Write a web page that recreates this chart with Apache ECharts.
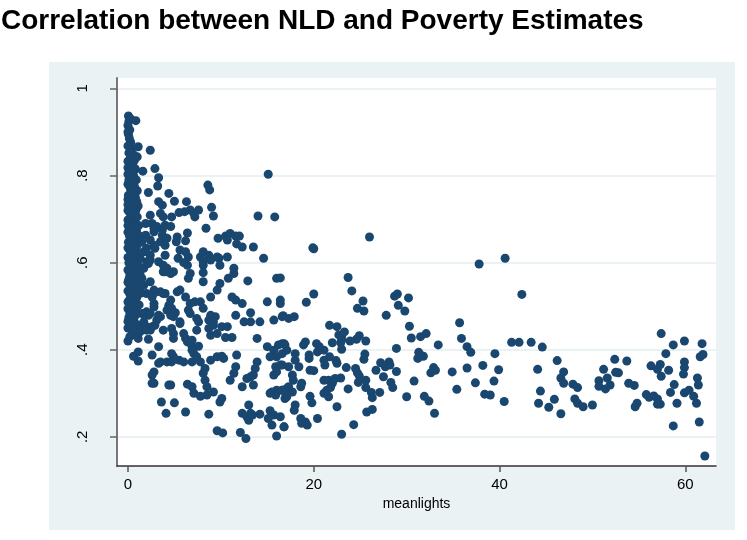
<!DOCTYPE html>
<html>
<head>
<meta charset="utf-8">
<script src="https://cdn.jsdelivr.net/npm/echarts@6/dist/echarts.min.js"></script>
<style>
html,body{margin:0;padding:0;background:#fff;}
#chart{width:747px;height:540px;}
</style>
</head>
<body>
<div id="chart"></div>
<script>
const chartTitle = 'Correlation between NLD and Poverty Estimates';
const xAxisName = 'meanlights';
const xTickValues = [0, 20, 40, 60];
const yTickValues = [0.2, 0.4, 0.6, 0.8, 1];
const yTickLabels = ['.2', '.4', '.6', '.8', '1'];

// [meanlights, poverty] — dense cluster near zero lights
const pointsDarkCluster = [
  [0.05,0.937],[0.1,0.925],[0.0,0.915],[0.2,0.905],[0.05,0.895],[0.15,0.885],[0.3,0.876],[0.3,0.93],[0.0,0.9],
  [0.0,0.868],[0.4,0.862],[0.1,0.852],[0.6,0.848],[0.25,0.84],[0.0,0.833],[0.5,0.826],[0.15,0.82],[0.8,0.815],
  [0.35,0.81],[0.0,0.803],[0.6,0.8],[0.25,0.86],[0.7,0.835],[0.0,0.818],[0.45,0.8],[0.1,0.79],
  [0.2,0.795],[0.9,0.79],[0.45,0.786],[0.0,0.78],[0.7,0.775],[0.25,0.77],[1.0,0.765],[0.5,0.76],[0.05,0.755],
  [0.8,0.75],[0.3,0.745],[0.6,0.738],[0.0,0.733],[1.1,0.73],[0.4,0.727],[0.85,0.72],[0.15,0.716],[0.6,0.71],
  [1.0,0.705],[0.3,0.703],[0.65,0.765],[0.35,0.755],[0.0,0.745],[0.95,0.74],[0.5,0.715],[0.0,0.72],
  [0.0,0.698],[0.75,0.694],[0.5,0.688],[1.15,0.685],[0.2,0.68],[0.9,0.676],[0.0,0.67],[0.55,0.667],[1.2,0.662],
  [0.3,0.657],[0.8,0.652],[0.05,0.647],[1.05,0.642],[0.45,0.638],[0.15,0.63],[0.7,0.627],[1.2,0.622],[0.35,0.617],
  [0.0,0.612],[0.9,0.608],[0.55,0.603],[0.25,0.69],[0.65,0.683],[0.0,0.685],[0.4,0.672],[0.95,0.668],[0.15,0.662],
  [0.6,0.645],[0.0,0.634],[0.85,0.632],[0.3,0.625],[0.75,0.612],
  [0.2,0.598],[1.1,0.594],[0.7,0.588],[0.0,0.583],[0.4,0.578],[1.3,0.573],[0.85,0.568],[0.1,0.562],[0.55,0.557],
  [1.1,0.552],[0.25,0.546],[0.75,0.54],[0.0,0.535],[1.4,0.53],[0.45,0.525],[0.95,0.52],[0.15,0.514],[0.65,0.508],
  [1.2,0.503],[0.3,0.5],[0.1,0.6],[0.45,0.592],[0.95,0.58],[0.2,0.57],[0.6,0.575],[0.0,0.555],[0.85,0.548],
  [0.4,0.54],[1.05,0.535],[0.2,0.528],[0.6,0.52],[0.0,0.51],[0.9,0.505],[0.45,0.498],
  [0.0,0.494],[0.85,0.49],[0.5,0.482],[0.1,0.474],[0.35,0.465],[0.7,0.458],[0.0,0.45],[0.2,0.485],[0.7,0.475],
  [0.0,0.465],[0.5,0.44],[0.2,0.43],[0.0,0.42],[0.6,0.498],[0.4,0.487],[1.0,0.483],[0.8,0.46],
  [1.0,0.43],[1.1,0.395],[0.6,0.385],[1.1,0.374],[0.6,0.476],[1.1,0.456],[1.3,0.445],[1.1,0.426]
];

// low lights, higher poverty (upper left spread)
const pointsUpperSpread = [
  [0.85,0.926],[2.4,0.858],[1.1,0.866],[1.0,0.843],[2.9,0.816],[1.6,0.81],[3.3,0.795],[3.2,0.776],[2.2,0.761],
  [4.4,0.759],[8.6,0.778],[8.8,0.767],[3.3,0.74],[3.7,0.732],[5.0,0.741],[6.3,0.74],[2.4,0.709],[3.5,0.713],
  [3.8,0.705],[4.7,0.705],[5.5,0.715],[6.1,0.717],[6.7,0.721],[7.1,0.713],[7.2,0.705],[7.6,0.721],[9.0,0.727],
  [9.2,0.707],[14.0,0.707],[15.8,0.705],[15.1,0.803],[2.6,0.69],[1.9,0.69],[2.8,0.679],[3.7,0.675],[4.0,0.686],
  [4.6,0.683],[3.1,0.683],[2.8,0.671],[2.4,0.652],[1.9,0.663],[1.5,0.648],[3.7,0.663],[4.2,0.656],[5.3,0.659],
  [5.2,0.648],[6.4,0.668],[6.2,0.65],[8.4,0.679],[9.7,0.656],[10.5,0.661],[11.0,0.667],[11.6,0.661],[12.0,0.661],
  [10.7,0.652],[11.7,0.643],[12.3,0.636],[13.5,0.636],[2.9,0.633],[1.9,0.629],[3.5,0.648],[4.0,0.64],[2.8,0.64],
  [2.0,0.633],[4.0,0.617],[5.6,0.629],[6.2,0.625],[6.5,0.613],[7.8,0.613],[8.1,0.602],[8.1,0.625],[8.7,0.617],
  [9.6,0.613],[10.7,0.613],[14.6,0.61],[2.4,0.606],[2.0,0.602],[1.7,0.625],[1.3,0.61],[3.3,0.602],[4.2,0.587],
  [3.8,0.579],[1.7,0.587],[2.2,0.598],[1.5,0.564],[2.4,0.556],[1.7,0.548],[16.0,0.564],[12.9,0.558],[11.4,0.587],
  [11.4,0.575],[10.8,0.564],[9.8,0.61],[9.9,0.594],[8.9,0.606],[8.1,0.594],[8.1,0.577],[8.1,0.556],[9.9,0.552],
  [9.6,0.537],[8.9,0.521],[6.4,0.594],[6.7,0.575],[6.5,0.564],[5.4,0.61],[3.8,0.594],[4.0,0.579],[4.6,0.575],
  [4.9,0.579],[2.4,0.617],[6.0,0.6]
];

// low lights, middle poverty
const pointsLowerSpread = [
  [2.8,0.537],[2.9,0.531],[3.5,0.533],[4.0,0.529],[5.3,0.533],[5.6,0.537],[6.2,0.521],[4.6,0.514],[4.4,0.502],
  [4.7,0.495],[4.2,0.491],[5.1,0.485],[4.9,0.476],[5.6,0.464],[4.6,0.479],[6.7,0.506],[7.2,0.51],[7.8,0.51],
  [6.5,0.491],[6.7,0.483],[7.4,0.472],[7.6,0.464],[7.4,0.445],[5.6,0.46],[4.7,0.449],[4.9,0.437],[4.9,0.426],
  [3.8,0.445],[2.9,0.456],[2.4,0.445],[2.0,0.453],[1.7,0.464],[1.5,0.483],[2.2,0.479],[2.0,0.487],[3.3,0.479],
  [2.8,0.506],[2.6,0.521],[2.0,0.529],[1.3,0.533],[1.0,0.529],[3.8,0.529],[1.7,0.483],[2.4,0.483],[2.8,0.498],
  [2.6,0.453],[3.1,0.468],[3.5,0.476],[1.3,0.441],[2.0,0.445],[2.2,0.424],[3.3,0.407],
  [6.0,0.437],[6.2,0.426],[6.4,0.418],[6.9,0.422],[6.9,0.407],[7.6,0.408],[7.1,0.391],[8.7,0.449],[9.2,0.456],
  [10.1,0.453],[10.7,0.453],[11.2,0.428],[10.5,0.428],[9.6,0.437],[8.9,0.433],[8.1,0.495],[8.9,0.479],[9.4,0.476],
  [9.2,0.464],[8.7,0.468],[11.6,0.479],[12.5,0.464],[13.2,0.464],[13.2,0.485],[11.2,0.521],[11.6,0.514],
  [12.3,0.506],[14.2,0.464],[13.9,0.426],[15.0,0.51],[15.7,0.468],[16.6,0.476],
  [15.0,0.407],[15.7,0.399],[16.2,0.411],[16.8,0.414],[17.1,0.399],[16.0,0.384],[15.3,0.384],[15.9,0.361],
  [16.4,0.365],[15.7,0.342],[16.0,0.349],
  [2.6,0.388],[3.5,0.372],[2.8,0.349],[2.6,0.342],[2.8,0.323],[4.4,0.319],[3.3,0.369],[4.2,0.372],[4.7,0.372],
  [5.5,0.376],[6.0,0.372],[6.9,0.372],[6.9,0.399],[7.4,0.384],[7.8,0.372],[4.9,0.384],[4.7,0.391],
  [8.5,0.315],[8.3,0.33],[8.1,0.346],[8.3,0.357],[8.9,0.376],[9.6,0.384],[10.1,0.385],[10.3,0.38],
  [11.7,0.388],[11.6,0.361],[11.4,0.346],[11.0,0.33],[12.8,0.334],[13.2,0.338],[13.5,0.342],[13.7,0.357],
  [13.9,0.372],[12.3,0.315],[13.5,0.319],
  [6.4,0.321],[6.9,0.315],[7.1,0.3],[7.8,0.293],[8.5,0.296],[9.2,0.303],[10.1,0.288],[9.9,0.28],[3.6,0.28],
  [5.0,0.278],[4.1,0.254],[6.2,0.257],[8.7,0.252],[9.6,0.214],[10.2,0.209],[12.1,0.21],[12.7,0.196],[12.3,0.254],
  [12.8,0.246],[13.2,0.254],[13.0,0.273],[14.2,0.252],[15.3,0.26],[15.7,0.25],[15.1,0.242],[15.5,0.227],
  [16.0,0.202],[16.8,0.223],[15.3,0.3],[16.0,0.307],[17.1,0.311],[16.9,0.288],[13.4,0.25],[13.0,0.238],
  [15.5,0.303],[15.9,0.296],[16.6,0.307],[17.1,0.292],[2.6,0.323],[4.6,0.319]
];

// middle lights
const pointsMidLights = [
  [26.0,0.659],[19.9,0.634],[20.0,0.632],[16.4,0.565],[23.7,0.566],[24.1,0.535],[25.3,0.512],[24.7,0.495],
  [25.4,0.489],[20.0,0.528],[19.2,0.509],[16.4,0.514],[16.4,0.506],[16.7,0.478],[17.3,0.472],[17.9,0.476],
  [21.7,0.456],[22.5,0.453],[22.7,0.434],[23.3,0.441],[23.0,0.422],[24.9,0.432],[24.6,0.424],[25.6,0.42],
  [23.9,0.42],[27.8,0.479],[28.7,0.523],[29.0,0.528],[30.2,0.519],[29.1,0.502],[29.8,0.489],[30.3,0.454],
  [30.5,0.427],[31.5,0.43],[32.1,0.437],[33.4,0.411],[35.7,0.462],[35.9,0.426],[36.5,0.407],[36.9,0.394],
  [36.5,0.358],[34.9,0.349],[37.4,0.324],[35.4,0.309],[28.9,0.403],[31.3,0.394],[31.6,0.386],[31.2,0.38],
  [31.8,0.385],[32.9,0.359],[32.6,0.347],[33.1,0.353],[30.8,0.328],[30.0,0.292],[31.9,0.293],[32.4,0.282],
  [33.0,0.254],[28.9,0.35],[27.2,0.37],[28.1,0.372],[27.7,0.361],[28.2,0.365],[26.7,0.353],[27.5,0.338],
  [28.3,0.325],[28.5,0.313],[27.1,0.302],[26.3,0.29],[26.2,0.302],[25.7,0.257],[26.3,0.263],[24.3,0.228],
  [23.0,0.206],[23.7,0.31],[24.9,0.34],[25.6,0.33],[24.8,0.325],[25.6,0.313],[24.5,0.357],[24.7,0.347],
  [25.5,0.39],[25.4,0.378],[23.0,0.401],[23.5,0.359],[22.5,0.369],[22.4,0.375],[22.0,0.416],[23.0,0.43],
  [22.9,0.416],[21.1,0.376],[21.2,0.365],[21.1,0.399],[21.7,0.384],[21.1,0.33],[21.6,0.33],[22.0,0.323],
  [22.3,0.334],[22.9,0.335],[21.8,0.313],[21.1,0.3],[21.6,0.292],[21.4,0.307],[22.5,0.269],[20.3,0.414],
  [20.6,0.407],[20.4,0.395],[19.5,0.388],[19.5,0.38],[19.1,0.418],[18.9,0.411],[19.6,0.353],[20.0,0.352],
  [18.7,0.323],[18.6,0.315],[19.6,0.293],[19.8,0.278],[20.4,0.242],[18.6,0.242],[19.1,0.234],[19.3,0.227],
  [18.7,0.231],[16.8,0.223],[18.0,0.273],[17.9,0.261],[17.7,0.342],[17.8,0.33],[17.3,0.315],[17.7,0.303],
  [18.0,0.391],[18.0,0.376],[18.4,0.361],[16.6,0.414],[16.9,0.411],[17.3,0.361],[16.6,0.365],[16.6,0.391],
  [16.6,0.307],[16.4,0.246]
];

// high lights
const pointsHighLights = [
  [37.8,0.597],[40.6,0.61],[42.4,0.527],[41.3,0.417],[42.1,0.417],[43.4,0.417],[44.6,0.406],[39.5,0.391],
  [38.2,0.364],[39.9,0.354],[39.4,0.328],[38.4,0.298],[39.0,0.296],[40.5,0.281],[44.1,0.355],[46.2,0.375],
  [44.4,0.305],[44.2,0.277],[45.3,0.268],[45.9,0.286],[46.6,0.253],[46.9,0.349],[46.6,0.335],[46.9,0.323],
  [47.9,0.321],[48.4,0.313],[48.1,0.287],[48.4,0.277],[49.0,0.269],[50.0,0.273],[51.2,0.355],[50.7,0.329],
  [50.7,0.316],[51.6,0.335],[51.4,0.31],[51.9,0.319],[52.4,0.378],[52.5,0.348],[52.8,0.347],[53.7,0.374],
  [53.9,0.323],[54.5,0.318],[54.6,0.269],[54.8,0.277],[56.3,0.363],[57.3,0.366],[57.0,0.355],[57.4,0.437],
  [57.9,0.391],[58.7,0.411],[59.9,0.42],[58.2,0.353],[57.4,0.339],[59.9,0.372],[59.9,0.359],[59.8,0.344],
  [61.8,0.414],[61.6,0.384],[61.9,0.389],[61.3,0.335],[61.4,0.319],[58.8,0.32],[58.4,0.302],[59.9,0.301],
  [60.4,0.307],[60.9,0.293],[61.2,0.277],[59.1,0.277],[55.8,0.297],[56.1,0.291],[56.6,0.294],[57.0,0.287],
  [57.0,0.275],[57.3,0.275],[58.7,0.225],[61.5,0.234],[62.1,0.156]
];

const allPoints = [].concat(pointsDarkCluster, pointsUpperSpread, pointsLowerSpread, pointsMidLights, pointsHighLights);

const chart = echarts.init(document.getElementById('chart'), null, {renderer: 'canvas'});
const fontFam = '"Liberation Sans", Arial, Helvetica, sans-serif';
chart.setOption({
  animation: false,
  backgroundColor: '#ffffff',
  title: {
    text: chartTitle,
    left: 1, top: 7, padding: 0,
    textStyle: {fontFamily: fontFam, fontWeight: 'bold', fontSize: 28, color: '#000'}
  },
  graphic: [{
    type: 'rect', z: -10, silent: true,
    shape: {x: 49, y: 62, width: 686, height: 468},
    style: {fill: '#EAF2F3'}
  }],
  grid: {
    left: 117, top: 78, right: 31, bottom: 74,
    show: true, backgroundColor: '#ffffff', borderWidth: 0
  },
  xAxis: {
    type: 'value', min: -1.18, max: 63.3,
    name: xAxisName, nameLocation: 'middle', nameGap: 28,
    nameTextStyle: {fontFamily: fontFam, fontSize: 14, color: '#000'},
    axisLine: {show: true, onZero: false, lineStyle: {color: '#333', width: 1.5}},
    axisTick: {show: true, length: 6, customValues: xTickValues, lineStyle: {color: '#555', width: 1.5}},
    axisLabel: {customValues: xTickValues, margin: 11, fontFamily: fontFam, fontSize: 15, color: '#000',
      formatter: v => String(v)},
    splitLine: {show: false}
  },
  yAxis: {
    type: 'value', min: 0.133, max: 1.024,
    axisLine: {show: true, onZero: false, lineStyle: {color: '#777', width: 2}},
    axisTick: {show: true, length: 7, customValues: yTickValues, lineStyle: {color: '#666', width: 1.5}},
    axisLabel: {customValues: yTickValues, rotate: 90, margin: 27, fontFamily: fontFam, fontSize: 15, color: '#000',
      formatter: v => {
        const i = yTickValues.findIndex(t => Math.abs(t - v) < 1e-6);
        return i >= 0 ? yTickLabels[i] : '';
      }},
    splitLine: {show: true, lineStyle: {color: '#EAF2F3', width: 2}}
  },
  series: [{
    type: 'scatter',
    data: allPoints,
    symbol: 'circle',
    symbolSize: 9,
    itemStyle: {color: '#1a476f', opacity: 1},
    clip: false
  }]
});
</script>
</body>
</html>
